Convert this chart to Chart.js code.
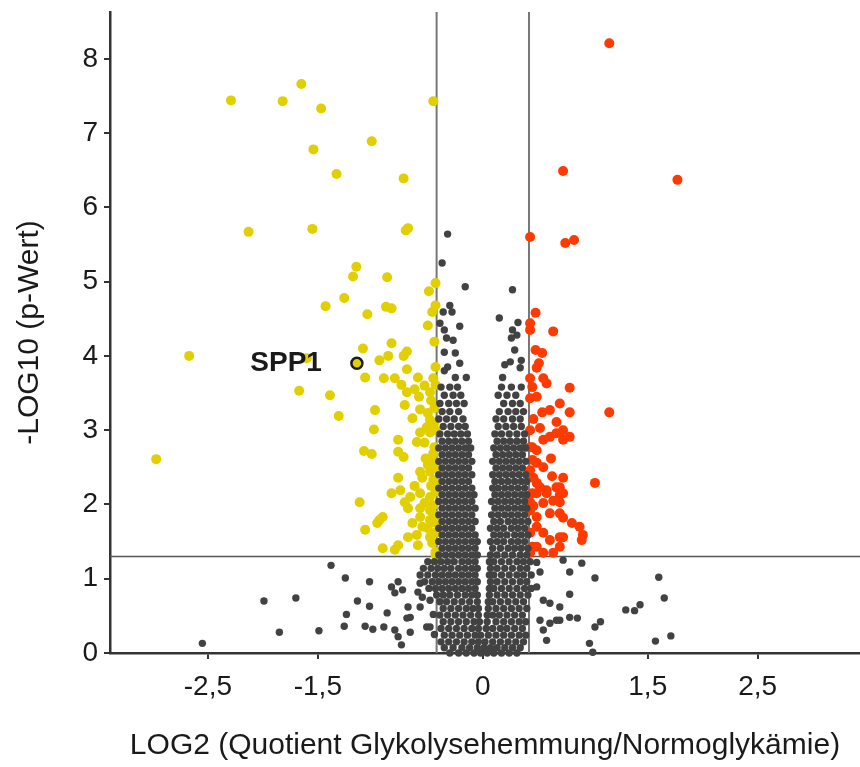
<!DOCTYPE html>
<html>
<head>
<meta charset="utf-8">
<script src="https://cdn.jsdelivr.net/npm/chart.js@4.4.0/dist/chart.umd.min.js"></script>
<style>
  html, body { margin: 0; padding: 0; background: #fff; }
  #wrap { width: 860px; height: 767px; }
</style>
</head>
<body>
<div id="wrap"><canvas id="canvas"></canvas></div>
<script>
// axis ticks
const xTicks = [-2.5, -1.5, 0, 1.5, 2.5];
const yTicks = [0, 1, 2, 3, 4, 5, 6, 7, 8];

// cut-offs: fold change (log2) and p = 0.05
const foldCutoffs = [-0.42, 0.42];
const pCutoff = 1.3;

// down-regulated (yellow), [log2, -log10 p]
const downPoints = [
  [-2.29, 7.44], [-1.82, 7.43], [-1.65, 7.66], [-2.13, 5.67], [-1.47, 7.33], [-0.45, 7.43],
  [-1.54, 6.78], [-1.01, 6.89], [-1.33, 6.45], [-0.72, 6.39], [-1.55, 5.71], [-0.68, 5.72],
  [-0.70, 5.69], [-1.15, 5.20], [-1.18, 5.07], [-0.87, 5.06], [-1.26, 4.78], [-1.43, 4.67],
  [-2.67, 4.00], [-1.60, 3.97], [-1.67, 3.53], [-1.39, 3.47], [-1.31, 3.19], [-2.97, 2.61],
  [-1.05, 4.56], [-0.88, 4.66], [-0.83, 4.64], [-0.43, 4.98], [-0.49, 4.87], [-0.43, 4.68],
  [-0.46, 4.59], [-0.50, 4.41], [-0.44, 4.19], [-0.83, 4.17], [-1.09, 4.10], [-0.86, 4.00],
  [-0.94, 3.94], [-0.69, 4.06], [-0.72, 4.00], [-0.43, 3.85], [-0.69, 3.82], [-1.07, 3.71],
  [-0.90, 3.70], [-0.80, 3.70], [-0.59, 3.71], [-0.74, 3.61], [-0.45, 3.70], [-0.43, 3.61],
  [-0.48, 3.51], [-0.69, 3.51], [-0.58, 3.45], [-0.71, 3.34], [-0.57, 3.28], [-0.50, 3.23],
  [-0.44, 3.30], [-0.98, 3.27], [-0.64, 3.16], [-0.48, 3.14], [-0.44, 3.10], [-0.51, 3.04],
  [-0.57, 2.97], [-0.48, 2.97], [-0.43, 3.00], [-0.99, 3.01], [-0.77, 2.87], [-0.60, 2.84],
  [-0.53, 2.83], [-0.44, 2.77], [-0.45, 2.69], [-1.08, 2.72], [-1.01, 2.68], [-0.77, 2.71],
  [-0.72, 2.64], [-0.50, 2.53], [-0.43, 2.50], [-0.57, 2.44], [-0.48, 2.44], [-0.77, 2.36],
  [-0.55, 2.36], [-0.45, 2.33], [-0.43, 2.29], [-0.83, 2.15], [-0.75, 2.19], [-0.66, 2.10],
  [-0.57, 2.15], [-0.48, 2.10], [-0.43, 2.17], [-1.12, 2.03], [-0.71, 2.03], [-0.53, 2.02],
  [-0.45, 1.99], [-0.68, 1.95], [-0.57, 1.95], [-0.48, 1.92], [-0.94, 1.79], [-0.91, 1.83],
  [-1.07, 1.66], [-0.96, 1.75], [-0.57, 1.83], [-0.48, 1.79], [-0.43, 1.75], [-0.55, 1.70],
  [-0.68, 1.56], [-0.60, 1.59], [-0.48, 1.56], [-0.43, 1.62], [-0.91, 1.41], [-0.80, 1.39],
  [-0.77, 1.45], [-0.59, 1.45], [-0.43, 1.36], [-0.43, 1.32], [-0.46, 2.60], [-0.47, 2.25],
  [-0.44, 1.85], [-0.46, 1.48], [-0.50, 1.68], [-0.52, 2.62], [-0.62, 2.25], [-0.64, 1.75],
  [-0.47, 3.40], [-0.53, 3.60], [-0.62, 3.55]
];

// up-regulated (red)
const upPoints = [
  [1.15, 8.21], [1.77, 6.37], [0.73, 6.49], [0.43, 5.60], [0.75, 5.52], [0.83, 5.56],
  [0.48, 4.58], [0.43, 4.44], [0.43, 4.35], [0.64, 4.33], [0.48, 4.08], [0.54, 4.04],
  [0.51, 3.90], [0.49, 3.84], [0.43, 3.70], [0.55, 3.70], [0.58, 3.63], [0.79, 3.57],
  [0.43, 3.43], [0.49, 3.45], [0.70, 3.36], [0.79, 3.24], [0.54, 3.24], [0.61, 3.27],
  [0.67, 3.11], [1.15, 3.24], [0.43, 3.00], [0.52, 3.03], [0.61, 2.91], [0.67, 2.96],
  [0.73, 2.87], [0.79, 2.91], [0.55, 2.87], [0.43, 2.77], [0.49, 2.73], [0.49, 2.56],
  [0.55, 2.50], [0.43, 2.46], [0.63, 2.38], [0.73, 2.36], [0.49, 2.29], [0.58, 2.19],
  [0.67, 2.23], [0.73, 2.15], [0.49, 2.15], [0.55, 2.02], [0.43, 2.03], [0.70, 2.03],
  [1.02, 2.29], [0.70, 2.23], [0.70, 2.13], [0.73, 1.82], [0.81, 1.75], [0.88, 1.70],
  [0.91, 1.59], [0.90, 1.52], [0.70, 1.56], [0.45, 3.58], [0.73, 3.00], [0.45, 2.77],
  [0.52, 2.23], [0.45, 2.15], [0.58, 2.15], [0.43, 1.92], [0.49, 1.83], [0.61, 1.88],
  [0.70, 1.88], [0.49, 1.70], [0.55, 1.62], [0.43, 1.62], [0.61, 1.52], [0.73, 1.56],
  [0.45, 1.43], [0.55, 1.35], [0.64, 1.35], [0.70, 1.43], [0.43, 1.35], [0.49, 1.43],
  [0.46, 3.15], [0.45, 2.60], [0.46, 2.36], [0.62, 2.62], [0.64, 2.05], [0.46, 1.98]
];

// not significant (grey), dense rows: [-log10 p, [log2 values]]
const grayRows = [
  [0.00, [-0.30, -0.22, -0.15, -0.08, -0.02, 0.04, 0.10, 0.17, 0.24, 0.31]],
  [0.07, [-0.35, -0.27, -0.19, -0.12, -0.05, 0.01, 0.07, 0.13, 0.20, 0.27, 0.34]],
  [0.15, [-0.38, -0.31, -0.24, -0.17, -0.10, -0.04, 0.02, 0.09, 0.16, 0.23, 0.30, 0.37]],
  [0.24, [-0.35, -0.28, -0.21, -0.14, -0.07, -0.02, 0.05, 0.12, 0.19, 0.26, 0.33, 0.39]],
  [0.33, [-0.38, -0.31, -0.24, -0.17, -0.10, -0.04, 0.03, 0.09, 0.16, 0.22, 0.29, 0.36]],
  [0.42, [-0.36, -0.29, -0.22, -0.15, -0.08, -0.03, 0.04, 0.12, 0.19, 0.26, 0.33, 0.39]],
  [0.51, [-0.39, -0.32, -0.25, -0.18, -0.11, -0.04, 0.04, 0.09, 0.15, 0.22, 0.29, 0.36]],
  [0.60, [-0.36, -0.29, -0.22, -0.15, -0.09, -0.04, 0.05, 0.12, 0.19, 0.26, 0.33, 0.40]],
  [0.69, [-0.39, -0.33, -0.26, -0.19, -0.12, -0.05, 0.05, 0.09, 0.16, 0.23, 0.30, 0.37]],
  [0.78, [-0.42, -0.36, -0.30, -0.23, -0.16, -0.10, -0.05, 0.06, 0.13, 0.20, 0.27, 0.34, 0.41]],
  [0.87, [-0.49, -0.43, -0.37, -0.31, -0.25, -0.19, -0.13, -0.07, 0.06, 0.10, 0.17, 0.24, 0.31, 0.38, 0.44]],
  [0.96, [-0.53, -0.46, -0.40, -0.34, -0.28, -0.22, -0.16, -0.10, -0.05, 0.07, 0.13, 0.20, 0.27, 0.34, 0.40]],
  [1.05, [-0.57, -0.50, -0.43, -0.37, -0.31, -0.25, -0.19, -0.13, -0.07, 0.06, 0.10, 0.17, 0.24, 0.31, 0.37, 0.44]],
  [1.14, [-0.54, -0.47, -0.41, -0.35, -0.29, -0.22, -0.16, -0.10, -0.05, 0.07, 0.13, 0.20, 0.27, 0.34, 0.40]],
  [1.23, [-0.50, -0.44, -0.38, -0.32, -0.26, -0.19, -0.13, -0.07, 0.06, 0.10, 0.17, 0.24, 0.31, 0.37, 0.43]],
  [1.32, [-0.40, -0.34, -0.28, -0.22, -0.16, -0.10, -0.05, 0.07, 0.13, 0.20, 0.27, 0.34, 0.40]],
  [1.41, [-0.37, -0.31, -0.25, -0.19, -0.13, -0.07, 0.09, 0.16, 0.23, 0.29, 0.35, 0.41]],
  [1.50, [-0.40, -0.34, -0.28, -0.22, -0.16, -0.10, -0.05, 0.07, 0.13, 0.19, 0.26, 0.32, 0.38]],
  [1.59, [-0.37, -0.31, -0.25, -0.19, -0.13, -0.07, 0.10, 0.16, 0.22, 0.29, 0.35, 0.41]],
  [1.68, [-0.40, -0.34, -0.28, -0.22, -0.16, -0.10, 0.07, 0.13, 0.19, 0.26, 0.32, 0.38]],
  [1.77, [-0.37, -0.31, -0.25, -0.19, -0.13, -0.07, 0.10, 0.16, 0.23, 0.29, 0.35, 0.41]],
  [1.86, [-0.40, -0.34, -0.28, -0.22, -0.16, -0.10, 0.08, 0.14, 0.20, 0.26, 0.32, 0.38]],
  [1.95, [-0.37, -0.31, -0.25, -0.19, -0.13, -0.07, 0.11, 0.17, 0.23, 0.29, 0.35, 0.40]],
  [2.04, [-0.40, -0.34, -0.28, -0.22, -0.16, -0.10, 0.08, 0.14, 0.20, 0.26, 0.32, 0.38]],
  [2.13, [-0.37, -0.31, -0.25, -0.19, -0.13, -0.08, 0.11, 0.17, 0.23, 0.29, 0.35, 0.40]],
  [2.22, [-0.40, -0.34, -0.28, -0.22, -0.16, -0.10, 0.09, 0.14, 0.20, 0.26, 0.32, 0.38]],
  [2.31, [-0.37, -0.31, -0.25, -0.19, -0.13, 0.11, 0.17, 0.23, 0.29, 0.35, 0.40]],
  [2.40, [-0.40, -0.34, -0.28, -0.22, -0.16, -0.10, 0.09, 0.15, 0.21, 0.27, 0.33, 0.39]],
  [2.49, [-0.37, -0.31, -0.25, -0.19, -0.13, 0.12, 0.18, 0.24, 0.30, 0.36]],
  [2.58, [-0.40, -0.34, -0.28, -0.22, -0.16, -0.10, 0.09, 0.15, 0.21, 0.27, 0.33, 0.39]],
  [2.67, [-0.37, -0.31, -0.25, -0.19, -0.13, 0.12, 0.18, 0.24, 0.30, 0.36]],
  [2.76, [-0.40, -0.34, -0.28, -0.22, -0.16, -0.11, 0.10, 0.16, 0.22, 0.28, 0.34, 0.39]],
  [2.85, [-0.37, -0.31, -0.25, -0.19, -0.13, 0.13, 0.19, 0.25, 0.31, 0.37]],
  [2.95, [-0.39, -0.32, -0.26, -0.20, -0.14, 0.11, 0.17, 0.24, 0.31, 0.38]],
  [3.05, [-0.36, -0.29, -0.22, -0.16, 0.14, 0.21, 0.28, 0.35]],
  [3.15, [-0.40, -0.33, -0.26, -0.18, 0.12, 0.19, 0.27, 0.34]],
  [3.25, [-0.37, -0.30, -0.22, 0.15, 0.23, 0.30, 0.37]],
  [3.36, [-0.39, -0.31, -0.24, -0.17, 0.19, 0.27, 0.34]],
  [3.47, [-0.35, -0.27, -0.20, 0.14, 0.22, 0.30]],
  [3.58, [-0.38, -0.30, -0.23, 0.17, 0.26, 0.35]]
];

// not significant (grey), scattered
const grayScatter = [
  [-0.37, 5.25], [-0.32, 5.64], [-0.16, 4.93], [0.27, 4.89], [0.15, 4.51], [0.32, 4.45],
  [-0.30, 4.68], [-0.36, 4.59], [-0.28, 4.59], [-0.39, 4.44], [-0.35, 4.35], [-0.33, 4.24],
  [-0.27, 4.21], [-0.21, 4.40], [-0.35, 4.05], [-0.25, 4.04], [-0.21, 3.90], [-0.32, 3.85],
  [-0.35, 3.80], [-0.15, 3.71], [-0.25, 3.71], [0.27, 4.35], [0.31, 4.28], [0.26, 4.24],
  [0.29, 4.08], [0.25, 3.92], [0.35, 3.94], [0.34, 3.84], [0.20, 3.88], [0.18, 3.71],
  [-1.38, 1.18], [-1.25, 1.01], [-1.99, 0.70], [-1.70, 0.74], [-1.14, 0.70], [-1.24, 0.52],
  [-1.85, 0.28], [-1.49, 0.30], [-1.26, 0.36], [-2.55, 0.13], [-1.03, 0.96], [-1.03, 0.63],
  [-1.07, 0.36], [-1.00, 0.32], [-0.90, 0.35], [-0.87, 0.54], [-0.83, 0.89], [-0.77, 0.96],
  [-0.73, 0.85], [-0.80, 0.81], [-0.68, 0.62], [-0.66, 0.48], [-0.69, 0.47], [-0.80, 0.31],
  [-0.77, 0.22], [-0.74, 0.11], [-0.66, 0.28], [-0.57, 0.94], [-0.59, 0.82], [-0.55, 0.75],
  [-0.48, 0.71], [-0.57, 0.62], [-0.51, 0.35], [-0.48, 0.35], [-0.45, 0.52], [-0.44, 0.25],
  [0.49, 1.22], [0.52, 1.09], [0.49, 0.89], [0.55, 0.71], [0.61, 0.67], [0.70, 0.62],
  [0.52, 0.44], [0.61, 0.40], [0.67, 0.44], [0.55, 0.31], [0.58, 0.17], [0.73, 1.25],
  [0.79, 1.09], [0.79, 0.79], [0.79, 0.48], [0.86, 0.47], [0.90, 1.21], [1.02, 1.01],
  [0.70, 0.44], [1.02, 0.35], [1.07, 0.42], [0.97, 0.13], [1.00, 0.01], [1.30, 0.58],
  [1.38, 0.57], [1.43, 0.65], [1.60, 1.02], [1.65, 0.74], [1.57, 0.16], [1.71, 0.23]
];

// highlighted protein
const spp1 = { label: 'SPP1', x: -1.145, y: 3.90 };

const grayPoints = grayRows.flatMap(([y, xs]) => xs.map(x => ({ x, y })))
  .concat(grayScatter.map(([x, y]) => ({ x, y })));
const toXY = arr => arr.map(([x, y]) => ({ x, y }));

const FONT = '"Liberation Sans", Arial, sans-serif';

const cutoffPlugin = {
  id: 'cutoffs',
  beforeDatasetsDraw(chart) {
    const { ctx, chartArea: a, scales: { x, y } } = chart;
    ctx.save();
    ctx.strokeStyle = '#777';
    ctx.lineWidth = 2;
    foldCutoffs.forEach(v => {
      const px = x.getPixelForValue(v);
      ctx.beginPath();
      ctx.moveTo(px, a.top);
      ctx.lineTo(px, a.bottom);
      ctx.stroke();
    });
    const py = y.getPixelForValue(pCutoff);
    ctx.strokeStyle = '#555';
    ctx.lineWidth = 1.5;
    ctx.beginPath();
    ctx.moveTo(a.left, py);
    ctx.lineTo(a.right, py);
    ctx.stroke();
    ctx.restore();
  },
  afterDatasetsDraw(chart) {
    const { ctx, scales: { x, y } } = chart;
    ctx.save();
    ctx.font = 'bold 28px ' + FONT;
    ctx.fillStyle = '#1a1a1a';
    ctx.textAlign = 'right';
    ctx.textBaseline = 'middle';
    ctx.fillText(spp1.label, x.getPixelForValue(spp1.x) - 35, y.getPixelForValue(spp1.y));
    ctx.restore();
  }
};

function createVisualization() {
  const ctx = document.getElementById('canvas').getContext('2d');
  new Chart(ctx, {
    type: 'scatter',
    data: {
      datasets: [
        { data: grayPoints, backgroundColor: '#424242', pointRadius: 3.7, borderWidth: 0, clip: false },
        { data: toXY(downPoints), backgroundColor: '#e2cf00', pointRadius: 5, borderWidth: 0, clip: false },
        { data: toXY(upPoints), backgroundColor: '#ff3a00', pointRadius: 5, borderWidth: 0, clip: false },
        { data: [{ x: spp1.x, y: spp1.y }], backgroundColor: '#e2cf00', borderColor: '#1a1a1a',
          borderWidth: 2.5, pointRadius: 5.5, clip: false }
      ]
    },
    options: {
      responsive: true,
      maintainAspectRatio: false,
      animation: false,
      layout: { autoPadding: false, padding: { top: 12, right: 0, left: 0, bottom: 0 } },
      scales: {
        x: {
          type: 'linear',
          min: -3.39,
          max: 3.43,
          afterBuildTicks: axis => { axis.ticks = xTicks.map(v => ({ value: v })); },
          afterFit: axis => {
            axis.height = 114;
            axis.paddingLeft = 0;
            axis.paddingRight = 0;
          },
          grid: { display: true, drawOnChartArea: false, drawTicks: true, tickLength: 6, color: '#333', lineWidth: 2 },
          border: { display: true, color: '#333', width: 2.5 },
          ticks: {
            color: '#1a1a1a', font: { family: FONT, size: 28 }, padding: 11, maxRotation: 0,
            callback: v => String(v).replace('.', ',')
          },
          title: {
            display: true, text: 'LOG2 (Quotient Glykolysehemmung/Normoglykämie)',
            color: '#1a1a1a', font: { family: FONT, size: 30 }, padding: { top: 0, bottom: 3 }
          }
        },
        y: {
          type: 'linear',
          min: 0,
          max: 8.63,
          afterBuildTicks: axis => { axis.ticks = yTicks.map(v => ({ value: v })); },
          afterFit: axis => {
            axis.width = 110;
            axis.paddingTop = 0;
            axis.paddingBottom = 0;
          },
          grid: { display: true, drawOnChartArea: false, drawTicks: true, tickLength: 6, color: '#333', lineWidth: 2 },
          border: { display: true, color: '#333', width: 2.5 },
          ticks: { color: '#1a1a1a', font: { family: FONT, size: 28 }, padding: 6 },
          title: {
            display: true, text: '-LOG10 (p-Wert)',
            color: '#1a1a1a', font: { family: FONT, size: 30 }, padding: { top: 12, bottom: 0 }
          }
        }
      },
      plugins: {
        legend: { display: false },
        tooltip: { enabled: false }
      }
    },
    plugins: [cutoffPlugin]
  });
}

createVisualization();
</script>
</body>
</html>
